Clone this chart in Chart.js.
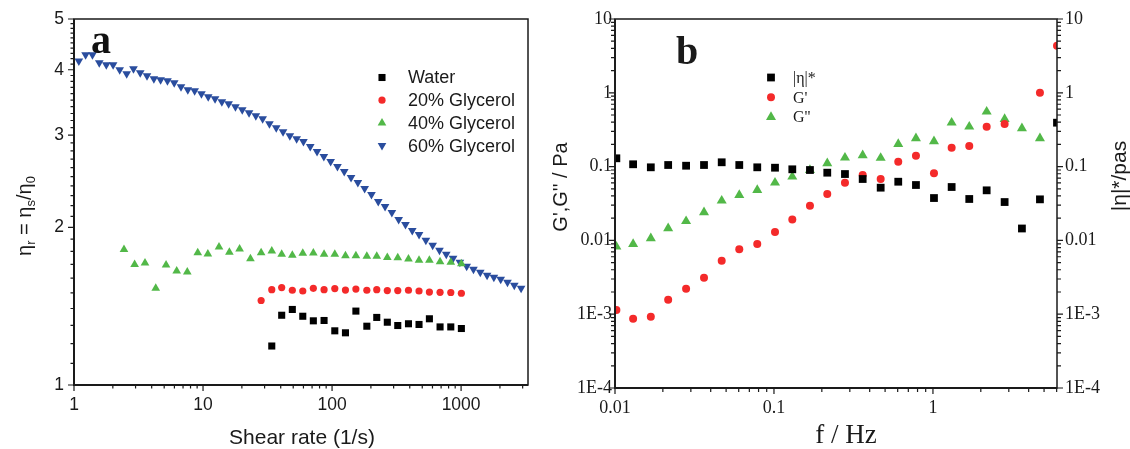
<!DOCTYPE html>
<html>
<head>
<meta charset="utf-8">
<script src="https://cdn.jsdelivr.net/npm/chart.js@4.4.0/dist/chart.umd.min.js"></script>
<style>
    html, body { margin: 0; padding: 0; background: #fff; }
    #wrap { position: relative; width: 1130px; height: 449px; }
    canvas { position: absolute; top: 0; }
    #chartA { left: 0; }
    #chartB { left: 540px; }
</style>
</head>
<body>
<div id="wrap">
    <canvas id="chartA" width="560" height="449"></canvas>
    <canvas id="chartB" width="590" height="449"></canvas>
</div>
<script>
// ---- panel a: relative viscosity vs shear rate ----
const shearRate = [2.44, 2.95, 3.55, 4.30, 5.17, 6.25, 7.55, 9.10, 10.9, 13.3, 16.0, 19.2, 23.3, 28.2, 34.1,
    40.7, 49.2, 59.3, 71.6, 86.7, 105, 127, 153, 186, 222, 268, 323, 391, 472, 568, 687, 832, 1005];
const water = [null, null, null, null, null, null, null, null, null, null, null, null, null, null, 1.187,
    1.359, 1.394, 1.353, 1.326, 1.328, 1.269, 1.258, 1.384, 1.295, 1.346, 1.318, 1.299, 1.309, 1.305, 1.338, 1.291, 1.291, 1.282];
const glycerol20 = [null, null, null, null, null, null, null, null, null, null, null, null, null, 1.450, 1.521,
    1.535, 1.517, 1.512, 1.530, 1.521, 1.528, 1.518, 1.525, 1.517, 1.521, 1.515, 1.515, 1.517, 1.512, 1.505, 1.503, 1.502, 1.497];
const glycerol40 = [1.814, 1.698, 1.710, 1.530, 1.695, 1.651, 1.644, 1.789, 1.779, 1.834, 1.792, 1.818, 1.743, 1.789, 1.803,
    1.777, 1.769, 1.784, 1.786, 1.777, 1.777, 1.766, 1.766, 1.761, 1.761, 1.751, 1.749, 1.740, 1.730, 1.730, 1.720, 1.715, 1.705];
const shearRate60 = [1.09, 1.23, 1.39, 1.57, 1.78, 2.01, 2.26, 2.56, 2.89, 3.26,
    3.68, 4.16, 4.69, 5.30, 5.98, 6.75, 7.62, 8.61, 9.72, 10.97,
    12.39, 13.99, 15.79, 17.83, 20.13, 22.73, 25.66, 28.97, 32.71, 36.93,
    41.70, 47.08, 53.15, 60.01, 67.76, 76.50, 86.37, 97.52, 110.1, 124.3,
    140.3, 158.5, 178.9, 202.0, 228.1, 257.5, 290.7, 328.2, 370.6, 418.4,
    472.4, 533.3, 602.2, 679.9, 767.6, 866.7, 978.6, 1105, 1247, 1408,
    1590, 1795, 2027, 2288, 2584, 2917];
const glycerol60 = [4.159, 4.271, 4.271, 4.123, 4.087, 4.087, 3.999, 3.930, 4.017, 3.947,
    3.895, 3.845, 3.828, 3.811, 3.777, 3.711, 3.663, 3.647, 3.600, 3.552,
    3.521, 3.475, 3.445, 3.400, 3.356, 3.311, 3.268, 3.225, 3.155, 3.100,
    3.046, 2.993, 2.954, 2.916, 2.853, 2.791, 2.731, 2.671, 2.613, 2.556,
    2.490, 2.436, 2.373, 2.311, 2.241, 2.193, 2.136, 2.071, 2.026, 1.973,
    1.939, 1.889, 1.848, 1.808, 1.777, 1.746, 1.715, 1.685, 1.663, 1.642,
    1.620, 1.606, 1.592, 1.571, 1.550, 1.530];
const aXTicks = [1, 10, 100, 1000];
const aXLabels = ['1', '10', '100', '1000'];
const aYTicks = [1, 2, 3, 4, 5];
const aYLabels = ['1', '2', '3', '4', '5'];

// ---- panel b: oscillatory sweep ----
const freq = [0.0102, 0.0130, 0.0168, 0.0216, 0.0280, 0.0363, 0.0469, 0.0605, 0.0785, 0.1015, 0.1304, 0.1684, 0.2164,
    0.2796, 0.3614, 0.4690, 0.6050, 0.7818, 1.015, 1.311, 1.692, 2.177, 2.824, 3.628, 4.710, 6.03];
const etaStar = [0.1296, 0.1075, 0.0978, 0.1051, 0.1028, 0.1051, 0.1144, 0.1051, 0.0978, 0.0966, 0.0919, 0.0899, 0.0827,
    0.0793, 0.0679, 0.0518, 0.0624, 0.0563, 0.0375, 0.0529, 0.0364, 0.0477, 0.0331, 0.0145, 0.0360, 0.3935];
const gPrime = [0.00114, 0.000869, 0.000925, 0.00157, 0.00222, 0.00313, 0.00531, 0.00757, 0.00893, 0.0130, 0.0192, 0.0295, 0.0425,
    0.0605, 0.0769, 0.0679, 0.1165, 0.1406, 0.0811, 0.1803, 0.1901, 0.3474, 0.3777, null, 1.003, 4.35];
const gDouble = [0.00822, 0.00893, 0.01067, 0.01459, 0.01820, 0.02404, 0.0345, 0.0412, 0.0482, 0.0605, 0.0730, 0.0899, 0.1109,
    0.1321, 0.1423, 0.1309, 0.2024, 0.2417, 0.2203, 0.3935, 0.3474, 0.5543, 0.4416, 0.3304, 0.2417, null];
const bXTicks = [0.01, 0.1, 1];
const bXLabels = ['0.01', '0.1', '1'];
const bYTicks = [1e-4, 1e-3, 0.01, 0.1, 1, 10];
const bYLabels = ['1E-4', '1E-3', '0.01', '0.1', '1', '10'];

const BLACK = '#000000', RED = '#f42a2a', GREEN = '#52b848', BLUE = '#2a4d9e';

function pts(xs, ys) {
    const out = [];
    xs.forEach((x, i) => { if (ys[i] != null) out.push({x: x, y: ys[i]}); });
    return out;
}

function logTicks(min, max) {
    const out = [];
    for (let e = Math.floor(Math.log10(min)); e <= Math.ceil(Math.log10(max)); e++) {
        for (let m = 1; m <= 9; m++) {
            const v = m * Math.pow(10, e);
            if (v >= min * 0.999 && v <= max * 1.001) out.push(v);
        }
    }
    return out;
}

function isMajor(v, list) {
    return list.some(t => Math.abs(v - t) / t < 1e-6);
}

// axes, ticks, labels and frame drawn from the chart's own scales
const framePlugin = {
    id: 'frame',
    afterDatasetsDraw(chart, args, o) {
        const ctx = chart.ctx, a = chart.chartArea;
        const xs = chart.scales.x, ys = chart.scales.y;
        ctx.save();
        ctx.strokeStyle = '#1a1a1a';
        ctx.lineWidth = 1.5;
        ctx.strokeRect(a.left, a.top, a.right - a.left, a.bottom - a.top);
        ctx.lineWidth = o.axisWidth;
        ctx.beginPath();
        ctx.moveTo(a.left, a.top); ctx.lineTo(a.left, a.bottom); ctx.lineTo(a.right, a.bottom);
        ctx.stroke();

        ctx.lineWidth = 1.2;
        ctx.beginPath();
        o.xMinor.forEach(v => {
            const px = xs.getPixelForValue(v);
            const len = isMajor(v, o.xMajor) ? o.majorLen : o.minorLen;
            ctx.moveTo(px, a.bottom); ctx.lineTo(px, a.bottom + len);
        });
        o.yMinor.forEach(v => {
            const py = ys.getPixelForValue(v);
            const len = isMajor(v, o.yMajor) ? o.majorLen : o.minorLen;
            ctx.moveTo(a.left, py); ctx.lineTo(a.left - len, py);
            if (o.right) { ctx.moveTo(a.right, py); ctx.lineTo(a.right + len, py); }
        });
        ctx.stroke();

        ctx.fillStyle = '#1a1a1a';
        ctx.font = o.font;
        ctx.textBaseline = 'middle';
        ctx.textAlign = 'center';
        o.xMajor.forEach((v, i) => ctx.fillText(o.xLabels[i], xs.getPixelForValue(v), a.bottom + o.xLabelGap));
        ctx.textAlign = 'right';
        o.yMajor.forEach((v, i) => ctx.fillText(o.yLabels[i], a.left - o.yLabelGap, ys.getPixelForValue(v)));
        if (o.right) {
            ctx.textAlign = 'left';
            o.yMajor.forEach((v, i) => ctx.fillText(o.yLabels[i], a.right + 8, ys.getPixelForValue(v)));
        }
        ctx.restore();
        if (o.extra) o.extra(chart, ctx, a);
    }
};

const legendPlugin = {
    id: 'sideLegend',
    afterDatasetsDraw(chart, args, o) {
        const ctx = chart.ctx;
        ctx.save();
        chart.data.datasets.forEach((ds, i) => {
            const y = o.y + i * o.step;
            ctx.fillStyle = ds.backgroundColor;
            ctx.strokeStyle = ds.backgroundColor;
            Chart.helpers.drawPoint(ctx, {
                pointStyle: ds.pointStyle, radius: ds.pointRadius,
                rotation: ds.rotation || 0, borderWidth: 0
            }, o.x, y);
            ctx.fillStyle = '#1a1a1a';
            ctx.font = o.font;
            ctx.textAlign = 'left';
            ctx.textBaseline = 'middle';
            ctx.fillText(ds.label, o.textX, y + 1);
        });
        ctx.restore();
    }
};

function ds(label, data, color, style, r, rot) {
    return {
        label: label, data: data, showLine: false,
        backgroundColor: color, borderColor: color, borderWidth: 0,
        pointStyle: style, pointRadius: r, pointHoverRadius: r,
        rotation: rot || 0, pointRotation: rot || 0, clip: 0
    };
}

new Chart(document.getElementById('chartA').getContext('2d'), {
    type: 'scatter',
    data: {
        datasets: [
            ds('Water', pts(shearRate, water), BLACK, 'rect', 5),
            ds('20% Glycerol', pts(shearRate, glycerol20), RED, 'circle', 3.6),
            ds('40% Glycerol', pts(shearRate, glycerol40), GREEN, 'triangle', 5),
            ds('60% Glycerol', pts(shearRate60, glycerol60), BLUE, 'triangle', 5, 180)
        ]
    },
    options: {
        responsive: false,
        animation: false,
        events: [],
        layout: { padding: { left: 74, top: 19, right: 32, bottom: 64 } },
        scales: {
            x: { type: 'logarithmic', min: 1, max: 3300, display: false },
            y: { type: 'logarithmic', min: 1, max: 5, display: false }
        },
        plugins: {
            legend: { display: false },
            tooltip: { enabled: false },
            sideLegend: { x: 382, y: 77.5, step: 22.7, textX: 408, font: '18px "Liberation Sans", Arial, sans-serif' },
            frame: {
                axisWidth: 2, majorLen: 6, minorLen: 3.5,
                font: '17.5px "Liberation Sans", Arial, sans-serif',
                xMajor: aXTicks, xLabels: aXLabels, xMinor: logTicks(1, 3300), xLabelGap: 20,
                yMajor: aYTicks, yLabels: aYLabels,
                yMinor: Array.from({length: 41}, (_, i) => Math.round((1 + i * 0.1) * 10) / 10), yLabelGap: 10,
                extra(chart, ctx, a) {
                    ctx.save();
                    ctx.fillStyle = '#1a1a1a';
                    ctx.font = '21px "Liberation Sans", Arial, sans-serif';
                    ctx.textAlign = 'center';
                    ctx.textBaseline = 'alphabetic';
                    ctx.fillText('Shear rate (1/s)', 302, 444);
                    // rotated y title with subscripts
                    ctx.translate(31, 216);
                    ctx.rotate(-Math.PI / 2);
                    const parts = [['η', 0], ['r', 1], [' = ', 0], ['η', 0], ['s', 1], ['/', 0], ['η', 0], ['0', 1]];
                    let w = 0;
                    parts.forEach(p => {
                        ctx.font = (p[1] ? '13px' : '20px') + ' "Liberation Sans", Arial, sans-serif';
                        w += ctx.measureText(p[0]).width;
                    });
                    let x = -w / 2;
                    ctx.textAlign = 'left';
                    parts.forEach(p => {
                        ctx.font = (p[1] ? '13px' : '20px') + ' "Liberation Sans", Arial, sans-serif';
                        ctx.fillText(p[0], x, p[1] ? 4 : 0);
                        x += ctx.measureText(p[0]).width;
                    });
                    ctx.restore();
                    ctx.save();
                    ctx.fillStyle = '#111';
                    ctx.font = 'bold 40px "Liberation Serif", "Times New Roman", serif';
                    ctx.textAlign = 'center';
                    ctx.fillText('a', 101, 53);
                    ctx.restore();
                }
            }
        }
    },
    plugins: [framePlugin, legendPlugin]
});

new Chart(document.getElementById('chartB').getContext('2d'), {
    type: 'scatter',
    data: {
        datasets: [
            ds('|η|*', pts(freq, etaStar), BLACK, 'rect', 5.5),
            ds("G'", pts(freq, gPrime), RED, 'circle', 4),
            ds("G''", pts(freq, gDouble), GREEN, 'triangle', 5.8)
        ]
    },
    options: {
        responsive: false,
        animation: false,
        events: [],
        layout: { padding: { left: 75, top: 19, right: 73, bottom: 61 } },
        scales: {
            x: { type: 'logarithmic', min: 0.01, max: 6.03, display: false },
            y: { type: 'logarithmic', min: 1e-4, max: 10, display: false }
        },
        plugins: {
            legend: { display: false },
            tooltip: { enabled: false },
            sideLegend: { x: 231, y: 77.5, step: 19.8, textX: 253, font: '16px "Liberation Serif", "Times New Roman", serif' },
            frame: {
                axisWidth: 1.8, majorLen: 6, minorLen: 4, right: true,
                font: '18px "Liberation Serif", "Times New Roman", serif',
                xMajor: bXTicks, xLabels: bXLabels, xMinor: logTicks(0.01, 6.03), xLabelGap: 20,
                yMajor: bYTicks, yLabels: bYLabels, yMinor: logTicks(1e-4, 10), yLabelGap: 3,
                extra(chart, ctx, a) {
                    ctx.save();
                    ctx.fillStyle = '#1a1a1a';
                    ctx.font = '27px "Liberation Serif", "Times New Roman", serif';
                    ctx.textAlign = 'center';
                    ctx.textBaseline = 'alphabetic';
                    ctx.fillText('f / Hz', 306, 443);
                    ctx.font = 'bold 40px "Liberation Serif", "Times New Roman", serif';
                    ctx.fillText('b', 147, 64);
                    ctx.font = '20px "Liberation Sans", Arial, sans-serif';
                    ctx.save();
                    ctx.translate(21, 187);
                    ctx.rotate(-Math.PI / 2);
                    ctx.textBaseline = 'middle';
                    ctx.fillText("G',G'' / Pa", 0, 0);
                    ctx.restore();
                    ctx.font = '21px "Liberation Sans", Arial, sans-serif';
                    ctx.translate(580, 176);
                    ctx.rotate(-Math.PI / 2);
                    ctx.textBaseline = 'middle';
                    ctx.fillText('|η|*/pas', 0, 0);
                    ctx.restore();
                }
            }
        }
    },
    plugins: [framePlugin, legendPlugin]
});
</script>
</body>
</html>
